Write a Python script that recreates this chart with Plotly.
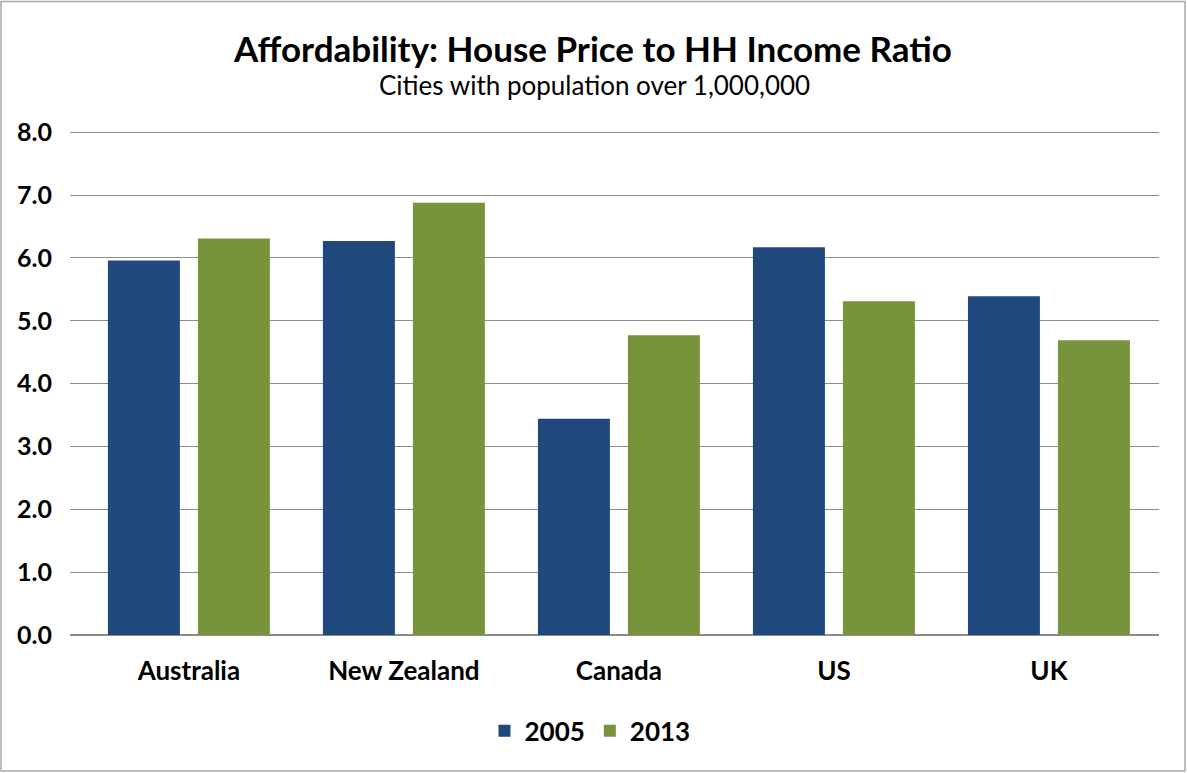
import plotly.graph_objects as go

categories = ["Australia", "New Zealand", "Canada", "US", "UK"]
series_names = ["2005", "2013"]
values_2005 = [5.96, 6.27, 3.44, 6.17, 5.39]
values_2013 = [6.31, 6.88, 4.77, 5.31, 4.69]
y_ticks = [0, 1, 2, 3, 4, 5, 6, 7, 8]
y_tick_labels = ["0.0", "1.0", "2.0", "3.0", "4.0", "5.0", "6.0", "7.0", "8.0"]

FONT = "Lato"
W, H = 1187, 773
YMAX = 8.02
UNIT = 62.9
L, R, B = 70, 28, 138
T = H - B - YMAX * UNIT
pw = W - L - R
ph = H - T - B

fig = go.Figure()
fig.add_trace(go.Bar(x=categories, y=values_2005, name=series_names[0],
                     marker=dict(color="#1F497D", line=dict(width=0))))
fig.add_trace(go.Bar(x=categories, y=values_2013, name=series_names[1],
                     marker=dict(color="#77933C", line=dict(width=0))))

def px_to_paper_x(px):
    return (px - L) / pw

def py_to_paper_y(py):
    return (H - B - py) / ph

fig.update_layout(
    width=W, height=H,
    margin=dict(l=L, r=R, t=T, b=B, autoexpand=False),
    paper_bgcolor="white", plot_bgcolor="white",
    barmode="group", bargap=0.163, bargroupgap=0.2,
    font=dict(family=FONT, color="black"),
    showlegend=True,
    legend=dict(orientation="h", x=px_to_paper_x(590), xanchor="center",
                y=py_to_paper_y(731), yanchor="middle",
                font=dict(family=FONT, size=26, color="black", weight="bold"),
                itemwidth=30, traceorder="normal"),
    xaxis=dict(type="category", range=[-0.553, 4.512], showgrid=False,
               showline=False, ticks="", zeroline=False,
               tickfont=dict(family=FONT, size=26, color="black", weight="bold"),
               ticklabelstandoff=18),
    yaxis=dict(range=[0, YMAX], tickvals=y_ticks, ticktext=y_tick_labels,
               showgrid=True, gridcolor="#8c8c8c", gridwidth=1.3,
               zeroline=True, zerolinecolor="#8c8c8c", zerolinewidth=1.5,
               showline=False, ticks="",
               tickfont=dict(family=FONT, size=25, color="black", weight="bold"),
               ticklabelstandoff=17),
    annotations=[
        dict(text="<b>Affordability: House Price to HH Income Ratio</b>",
             xref="paper", yref="paper", x=px_to_paper_x(592), y=py_to_paper_y(47),
             xanchor="center", yanchor="middle", showarrow=False,
             font=dict(family=FONT, size=35, color="black")),
        dict(text="Cities with population over 1,000,000",
             xref="paper", yref="paper", x=px_to_paper_x(594), y=py_to_paper_y(85),
             xanchor="center", yanchor="middle", showarrow=False,
             font=dict(family=FONT, size=26, color="black")),
    ],
    shapes=[
        dict(type="rect", xref="paper", yref="paper",
             x0=px_to_paper_x(1), x1=px_to_paper_x(1185),
             y0=py_to_paper_y(771), y1=py_to_paper_y(1),
             line=dict(color="#a6a6a6", width=1.5), fillcolor="rgba(0,0,0,0)", layer="above"),
    ],
)

fig.write_html("out.html", config={"displayModeBar": False},
               post_script="document.body.style.margin='0';document.body.style.overflow='hidden';")
